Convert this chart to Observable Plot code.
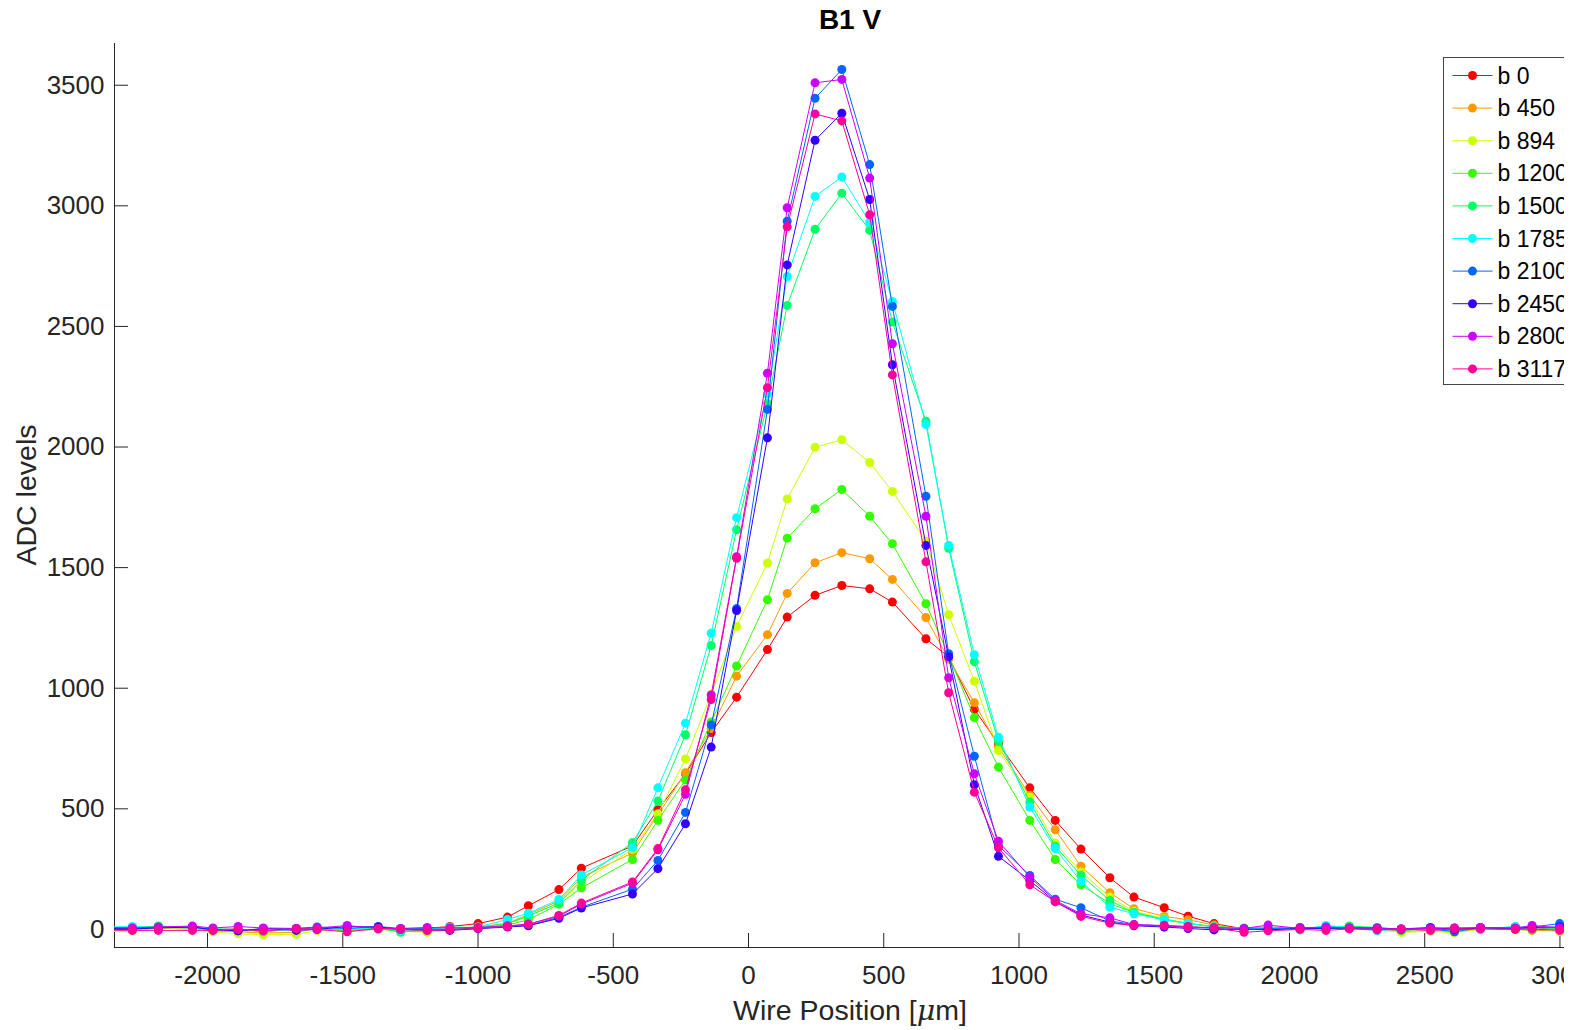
<!DOCTYPE html>
<html><head><meta charset="utf-8">
<script src="https://cdn.jsdelivr.net/npm/d3@7"></script>
<script src="https://cdn.jsdelivr.net/npm/@observablehq/plot@0.6"></script>
<style>
body{margin:0;background:#fff;}
#wrap{position:relative;width:1564px;height:1030px;overflow:hidden;background:#fff;}
#wrap svg{position:absolute;left:0;top:0;max-width:none !important;width:1600px !important;height:1030px !important;}
</style></head><body><div id="wrap"></div>
<script>
// Wire positions (µm)
const positions = [-2380, -2278, -2182, -2056, -1980, -1887, -1794, -1672, -1595, -1484, -1369, -1286, -1188, -1104,
  -1000, -891, -814, -701, -618, -429, -335, -233, -138, -44, 70, 143, 246, 345, 448, 532, 656, 740, 835, 924,
  1040, 1134, 1229, 1336, 1425, 1537, 1625, 1721,
  1832, 1921, 2039, 2135, 2221, 2324, 2413, 2521, 2610, 2706, 2835, 2897, 2999, 3100];

const seriesNames = ["b 0", "b 450", "b 894", "b 1200", "b 1500", "b 1785", "b 2100", "b 2450", "b 2800", "b 3117"];
const seriesColors = ["#FF0000", "#FF9900", "#CCFF00", "#33FF00", "#00FF66", "#00FFFF", "#0066FF", "#3300FF", "#CC00FF", "#FF0099"];

const b0 = [2, 4, 10, 6, 0, 2, -8, 4, 3, 0, 8, -3, 5, 12,
  24, 51, 98, 165, 254, 346, 496, 645, 816, 963, 1160, 1295, 1385, 1426, 1412, 1357, 1205, 1130, 912, 770, 587, 452, 333, 214, 134, 90, 55, 24,
  2, 0, 8, 4, 10, 2, -4, 4, 6, 0, 10, 4, 2, 3];
const b450 = [-8, -2, 5, 2, -6, -10, -15, -12, 4, -6, 0, -4, -10, 2,
  10, 25, 62, 118, 216, 317, 475, 650, 833, 1050, 1222, 1393, 1520, 1562, 1537, 1451, 1293, 1120, 940, 756, 556, 413, 262, 152, 86, 54, 40, 18,
  -2, 4, 2, 6, 8, 0, -10, -4, -12, 2, 0, -4, -6, -5];
const b894 = [-10, -6, 6, 0, -10, -18, -22, -20, -5, 0, 2, -8, -12, -4,
  8, 22, 55, 110, 194, 332, 480, 707, 974, 1256, 1519, 1785, 1999, 2030, 1936, 1816, 1610, 1305, 1029, 742, 548, 358, 238, 134, 75, 45, 25, 12,
  0, 6, 2, 4, 6, -2, -12, -8, -14, 0, -2, 6, -10, -8];
const b1200 = [4, 6, 12, 10, -4, 0, -10, 2, 0, -4, 4, -10, -6, 0,
  5, 18, 40, 104, 172, 290, 452, 620, 860, 1092, 1367, 1622, 1744, 1824, 1713, 1599, 1350, 1136, 878, 673, 452, 290, 185, 107, 70, 40, 25, 10,
  6, 10, 4, 6, 12, 4, -4, 0, -6, 4, 0, -2, 2, 0];
const b1500 = [6, 8, 14, 8, 4, -6, -4, 0, 4, 2, 6, -12, 2, 10,
  8, 25, 56, 110, 204, 360, 532, 807, 1177, 1657, 2180, 2587, 2903, 3052, 2898, 2518, 2107, 1580, 1110, 780, 528, 345, 224, 120, 70, 42, 25, 12,
  4, 8, -2, 10, 14, 8, -2, 2, 0, 2, 10, 0, 4, 2];
const b1785 = [10, 12, 8, 6, 2, 0, -4, -2, 0, 4, 6, -4, 4, 6,
  10, 41, 67, 124, 226, 339, 587, 855, 1228, 1707, 2220, 2707, 3039, 3120, 2932, 2603, 2093, 1592, 1139, 797, 507, 335, 199, 92, 65, 40, 25, 10,
  2, 6, 0, 16, 8, -6, 2, 0, -4, 2, 12, 6, 8, 6];
const b2100 = [6, 4, 8, 10, 0, -6, 2, 4, 10, 4, 12, 4, 2, 0,
  5, 12, 17, 50, 92, 167, 286, 485, 848, 1330, 2156, 2936, 3446, 3565, 3171, 2583, 1796, 1143, 718, 348, 224, 125, 90, 35, 20, 15, 10, 4,
  0, 4, 6, 8, 4, 2, -2, 4, -10, 8, 4, 10, 24, 20];
const b2450 = [4, 2, 6, 10, -2, -6, 4, -4, 0, 12, 10, 0, -2, -4,
  3, 10, 15, 46, 89, 147, 252, 438, 756, 1322, 2038, 2755, 3272, 3384, 3026, 2341, 1592, 1130, 600, 303, 203, 115, 60, 30, 15, 10, 4, -2,
  2, -2, 4, 4, 6, 6, 2, 8, 0, 6, 4, 8, 10, 8];
const b2800 = [8, 6, 10, 14, 6, 12, 6, 4, 6, 16, 4, 4, 8, 6,
  8, 15, 22, 55, 105, 192, 330, 560, 972, 1545, 2306, 2992, 3510, 3524, 3115, 2428, 1713, 1043, 645, 366, 217, 120, 65, 48, 20, 15, 8, 8,
  4, 18, 4, 10, 6, 4, 2, 4, 6, 8, 6, 16, 6, 8];
const b3117 = [-2, -4, -4, -4, -4, 0, -6, 2, 0, -10, 4, 0, -4, -2,
  5, 12, 21, 58, 109, 197, 335, 579, 953, 1539, 2246, 2913, 3381, 3352, 2963, 2299, 1524, 981, 569, 339, 185, 115, 54, 26, 17, 17, 12, 6,
  -12, -6, 0, -4, 2, -2, 2, -4, 2, 2, 0, 2, -4, -2];

const seriesValues = [b0, b450, b894, b1200, b1500, b1785, b2100, b2450, b2800, b3117];

const xTicks = [-2000, -1500, -1000, -500, 0, 500, 1000, 1500, 2000, 2500, 3000];
const yTicks = [0, 500, 1000, 1500, 2000, 2500, 3000, 3500];
const xDomain = [-2344, 3100];
const yDomain = [-75, 3673];

const titleText = "B1 V";
const yLabelText = "ADC levels";

// layout
const W = 1600, H = 1030;
const mL = 114, mR = 13.5, mT = 43, mB = 83;
const axisColor = "#262626";
const font = "'Liberation Sans', Arial, Helvetica, sans-serif";
const tickLen = 14;
const kx = (W - mL - mR) / (xDomain[1] - xDomain[0]);
const ky = (H - mT - mB) / (yDomain[1] - yDomain[0]);

const marks = [
  Plot.ruleY([yDomain[0]], {stroke: axisColor, strokeWidth: 1}),
  Plot.ruleX([xDomain[0]], {stroke: axisColor, strokeWidth: 1}),
  Plot.ruleX(xTicks, {x: d => d, y1: yDomain[0], y2: yDomain[0] + tickLen / ky, stroke: axisColor}),
  Plot.ruleY(yTicks, {y: d => d, x1: xDomain[0], x2: xDomain[0] + tickLen / kx, stroke: axisColor}),
  Plot.axisX({ticks: xTicks, tickSize: 0, tickPadding: 18, fontSize: 26, tickFormat: d => String(d), label: null, fill: axisColor}),
  Plot.axisY({ticks: yTicks, tickSize: 0, tickPadding: 10, fontSize: 26, tickFormat: d => String(d), label: null, fill: axisColor})
];

seriesValues.forEach((vals, si) => {
  const data = positions.map((x, i) => ({x, y: vals[i]}));
  marks.push(Plot.line(data, {x: "x", y: "y", stroke: seriesColors[si], strokeWidth: 1, clip: true}));
  marks.push(Plot.dot(data, {x: "x", y: "y", fill: seriesColors[si], r: 4.5, clip: true}));
});

const svg = Plot.plot({
  width: W, height: H,
  marginLeft: mL, marginRight: mR, marginTop: mT, marginBottom: mB,
  x: {domain: xDomain},
  y: {domain: yDomain},
  style: {fontFamily: font, color: axisColor, background: "transparent", maxWidth: "none"},
  marks
});

const s = d3.select(svg);
s.append("text").attr("x", 850).attr("y", 29).attr("text-anchor", "middle")
  .attr("font-size", 28).attr("font-weight", "bold").attr("fill", "#000").attr("font-family", font).text(titleText);

const xl = s.append("text").attr("x", 850).attr("y", 1020).attr("text-anchor", "middle")
  .attr("font-size", 28.5).attr("fill", axisColor).attr("font-family", font);
xl.append("tspan").text("Wire Position [");
xl.append("tspan").attr("font-style", "italic").attr("font-family", "'DejaVu Serif', 'Liberation Serif', serif").text("μ");
xl.append("tspan").text("m]");

s.append("text").attr("transform", "translate(36,495) rotate(-90)").attr("text-anchor", "middle")
  .attr("font-size", 28.5).attr("fill", axisColor).attr("font-family", font).text(yLabelText);

// legend
const lg = s.append("g").attr("transform", "translate(1443.5,57.5)");
lg.append("rect").attr("width", 170).attr("height", 327).attr("fill", "#fff").attr("stroke", "#444").attr("stroke-width", 1);
seriesNames.forEach((name, i) => {
  const cy = 18 + i * 32.6;
  lg.append("line").attr("x1", 9).attr("x2", 49).attr("y1", cy).attr("y2", cy).attr("stroke", seriesColors[i]).attr("stroke-width", 1);
  lg.append("circle").attr("cx", 29).attr("cy", cy).attr("r", 4.5).attr("fill", seriesColors[i]);
  lg.append("text").attr("x", 54).attr("y", cy).attr("dy", "0.35em").attr("font-size", 23).attr("text-anchor", "start")
    .attr("fill", "#000").attr("font-family", font).text(name);
});

svg.setAttribute("width", W);
svg.setAttribute("height", H);
document.getElementById("wrap").appendChild(svg);
</script>
</body></html>
